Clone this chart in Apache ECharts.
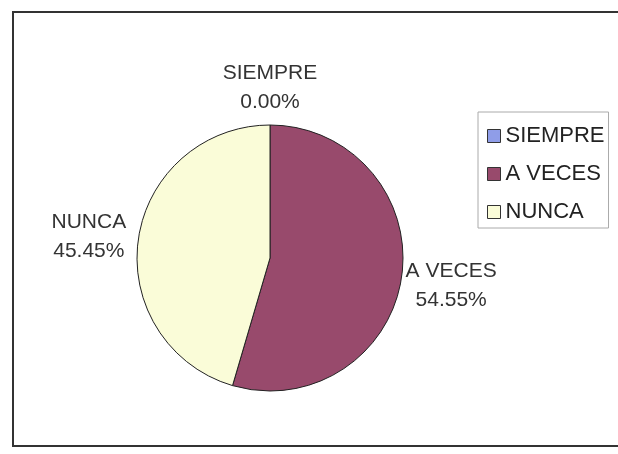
<!DOCTYPE html>
<html lang="es">
<head>
    <meta charset="UTF-8">
    <title>Pie</title>
    <script src="https://cdn.jsdelivr.net/npm/echarts@6/dist/echarts.min.js"></script>
</head>
<body style="margin:0">
    <div id="main" style="width: 618px;height:454px;"></div>
    <script type="text/javascript">
        // Data
        const categories = ['SIEMPRE', 'A VECES', 'NUNCA'];
        const values = [0, 6, 5];
        const colors = ['#8f9de8', '#984a6c', '#fafcd8'];

        const cx = 270, cy = 258;
        const total = values.reduce((a, b) => a + b, 0);

        // mid angle of each slice (degrees, clockwise from 12 o'clock)
        let acc = 0;
        const midAngles = values.map(v => {
            const a = (acc + v / 2) / total * 360;
            acc += v;
            return a;
        });

        let myChart = echarts.init(document.getElementById('main'));

        let options = {
            backgroundColor: '#fff',
            textStyle: { fontFamily: 'Liberation Sans, Arial, sans-serif' },
            graphic: [{
                type: 'rect',
                shape: { x: 13, y: 12, width: 610, height: 434 },
                style: { fill: 'none', stroke: '#333', lineWidth: 2 },
                silent: true
            }],
            legend: {
                orient: 'vertical',
                left: 478,
                top: 112,
                padding: [12, 4, 4, 9],
                itemGap: 14,
                itemWidth: 13,
                itemHeight: 13,
                borderColor: '#aaa',
                borderWidth: 1,
                icon: 'rect',
                itemStyle: { borderColor: '#333', borderWidth: 1 },
                textStyle: { fontSize: 22, lineHeight: 24, color: '#222' },
                data: categories
            },
            series: [{
                type: 'pie',
                center: [cx, cy],
                radius: 133,
                startAngle: 90,
                clockwise: true,
                animation: false,
                itemStyle: { borderColor: '#222', borderWidth: 1 },
                label: {
                    show: true,
                    position: 'outside',
                    formatter: p => p.name + '\n' + p.percent.toFixed(2) + '%',
                    fontSize: 21,
                    lineHeight: 29,
                    color: '#333',
                    align: 'center'
                },
                labelLine: { show: false },
                labelLayout: p => {
                    const a = midAngles[p.dataIndex] * Math.PI / 180;
                    return {
                        x: cx + 183 * Math.sin(a),
                        y: cy - 173 * Math.cos(a) + 3,
                        align: 'center',
                        verticalAlign: 'middle'
                    };
                },
                data: categories.map((c, i) => ({
                    name: c,
                    value: values[i],
                    itemStyle: { color: colors[i] }
                }))
            }]
        };

        myChart.setOption(options);
    </script>
</body>
</html>
